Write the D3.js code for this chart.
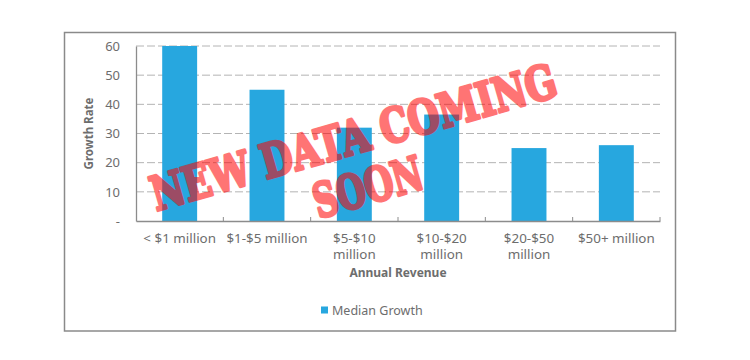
<!DOCTYPE html>
<html>
<head>
<meta charset="utf-8">
<script src="https://cdn.jsdelivr.net/npm/d3@7/dist/d3.min.js"></script>
<style>
  html, body { margin: 0; padding: 0; background: #fff; }
  svg { display: block; }
</style>
</head>
<body>
<svg id="chart" width="750" height="360"></svg>
<script>
const categories = ["< $1 million", "$1-$5 million", "$5-$10 million", "$10-$20 million", "$20-$50 million", "$50+ million"];
const tickLabels = ["< $1 million", "$1-$5 million", "$5-$10\nmillion", "$10-$20\nmillion", "$20-$50\nmillion", "$50+ million"];
const medianGrowth = [60, 45, 32, 36.5, 25, 26];
const yTicks = [0, 10, 20, 30, 40, 50, 60];
const yTickLabels = ["-", "10", "20", "30", "40", "50", "60"];
const seriesName = "Median Growth";
const xTitle = "Annual Revenue";
const yTitle = "Growth Rate";
const stampLines = ["NEW DATA COMING", "SOON"];

const svg = d3.select("#chart");
const font = "'Noto Sans', 'Open Sans', sans-serif";
const textColor = "#6d6d6d";
const axisColor = "#8c8c8c";
const barColor = "#27a7df";

// outer border
svg.append("rect")
  .attr("x", 64.5).attr("y", 32.5).attr("width", 611).attr("height", 298.5)
  .attr("fill", "none").attr("stroke", "#8a8a8a").attr("stroke-width", 1.5);

const plot = { left: 136, right: 660, top: 46, bottom: 221 };

const x = d3.scaleBand().domain(categories).range([plot.left, plot.right]).paddingInner(0).paddingOuter(0);
const y = d3.scaleLinear().domain([0, 60]).range([plot.bottom, plot.top]);

// gridlines
svg.append("g")
  .selectAll("line")
  .data(yTicks.filter(d => d > 0))
  .join("line")
  .attr("x1", plot.left).attr("x2", plot.right)
  .attr("y1", d => y(d)).attr("y2", d => y(d))
  .attr("stroke", "#b4b4b4").attr("stroke-width", 1)
  .attr("stroke-dasharray", "8,3");

// bars
const barW = x.bandwidth() * 0.4;
svg.append("g")
  .selectAll("rect")
  .data(medianGrowth)
  .join("rect")
  .attr("x", (d, i) => x(categories[i]) + (x.bandwidth() - barW) / 2)
  .attr("y", d => y(d))
  .attr("width", barW)
  .attr("height", d => y(0) - y(d))
  .attr("fill", barColor);

// y axis
const yAxis = d3.axisLeft(y).tickValues(yTicks).tickSize(0).tickPadding(16)
  .tickFormat((d, i) => yTickLabels[i]);
const yg = svg.append("g").attr("transform", `translate(${plot.left},0)`).call(yAxis);
yg.select(".domain").attr("stroke", axisColor).attr("stroke-width", 1.3);
yg.selectAll("text").attr("font-family", font).attr("font-size", 13).attr("fill", textColor);

// x axis
const xAxis = d3.axisBottom(x).tickSize(0).tickFormat("");
const xg = svg.append("g").attr("transform", `translate(0,${plot.bottom})`).call(xAxis);
xg.select(".domain").attr("stroke", axisColor).attr("stroke-width", 1.5);
// boundary tick marks (pointing up)
const bounds = categories.map(c => x(c)).concat([plot.right]).slice(1);
svg.append("g").selectAll("line").data(bounds).join("line")
  .attr("x1", d => d).attr("x2", d => d)
  .attr("y1", plot.bottom - 4).attr("y2", plot.bottom)
  .attr("stroke", axisColor).attr("stroke-width", 1);

// x tick labels
const xl = svg.append("g");
categories.forEach((c, i) => {
  const lines = tickLabels[i].split("\n");
  const t = xl.append("text")
    .attr("x", x(c) + x.bandwidth() / 2)
    .attr("y", 242.5)
    .attr("text-anchor", "middle")
    .attr("font-family", font).attr("font-size", 13.4).attr("fill", textColor);
  lines.forEach((ln, j) => {
    t.append("tspan").attr("x", x(c) + x.bandwidth() / 2).attr("dy", j === 0 ? 0 : 16.5).text(ln);
  });
});

// axis titles
svg.append("text")
  .attr("x", (plot.left + plot.right) / 2).attr("y", 277)
  .attr("text-anchor", "middle")
  .attr("font-family", font).attr("font-size", 12).attr("font-weight", "bold").attr("fill", textColor)
  .text(xTitle);
svg.append("text")
  .attr("transform", `translate(93,${(plot.top + plot.bottom) / 2}) rotate(-90)`)
  .attr("text-anchor", "middle")
  .attr("font-family", font).attr("font-size", 11.5).attr("font-weight", "bold").attr("fill", textColor)
  .text(yTitle);

// legend
const lg = svg.append("g");
lg.append("rect").attr("x", 321).attr("y", 306.5).attr("width", 7).attr("height", 7).attr("fill", barColor);
lg.append("text").attr("x", 332).attr("y", 314.5)
  .attr("font-family", font).attr("font-size", 12.5).attr("fill", textColor)
  .text(seriesName);

// stamp overlay
const stamp = svg.append("g").attr("transform", "translate(358,153) rotate(-16)")
  .attr("opacity", 0.54);
const lens = [420, 112];
stampLines.forEach((s, i) => {
  stamp.append("text")
    .attr("x", 0).attr("y", i * 52)
    .attr("text-anchor", "middle")
    .attr("font-family", "'DejaVu Serif', serif").attr("font-weight", "bold")
    .attr("font-size", 47)
    .attr("textLength", lens[i]).attr("lengthAdjust", "spacingAndGlyphs")
    .attr("fill", "#ff0000")
    .attr("stroke", "#ff0000").attr("stroke-width", 3.2).attr("stroke-linejoin", "round")
    .text(s);
});
</script>
</body>
</html>
